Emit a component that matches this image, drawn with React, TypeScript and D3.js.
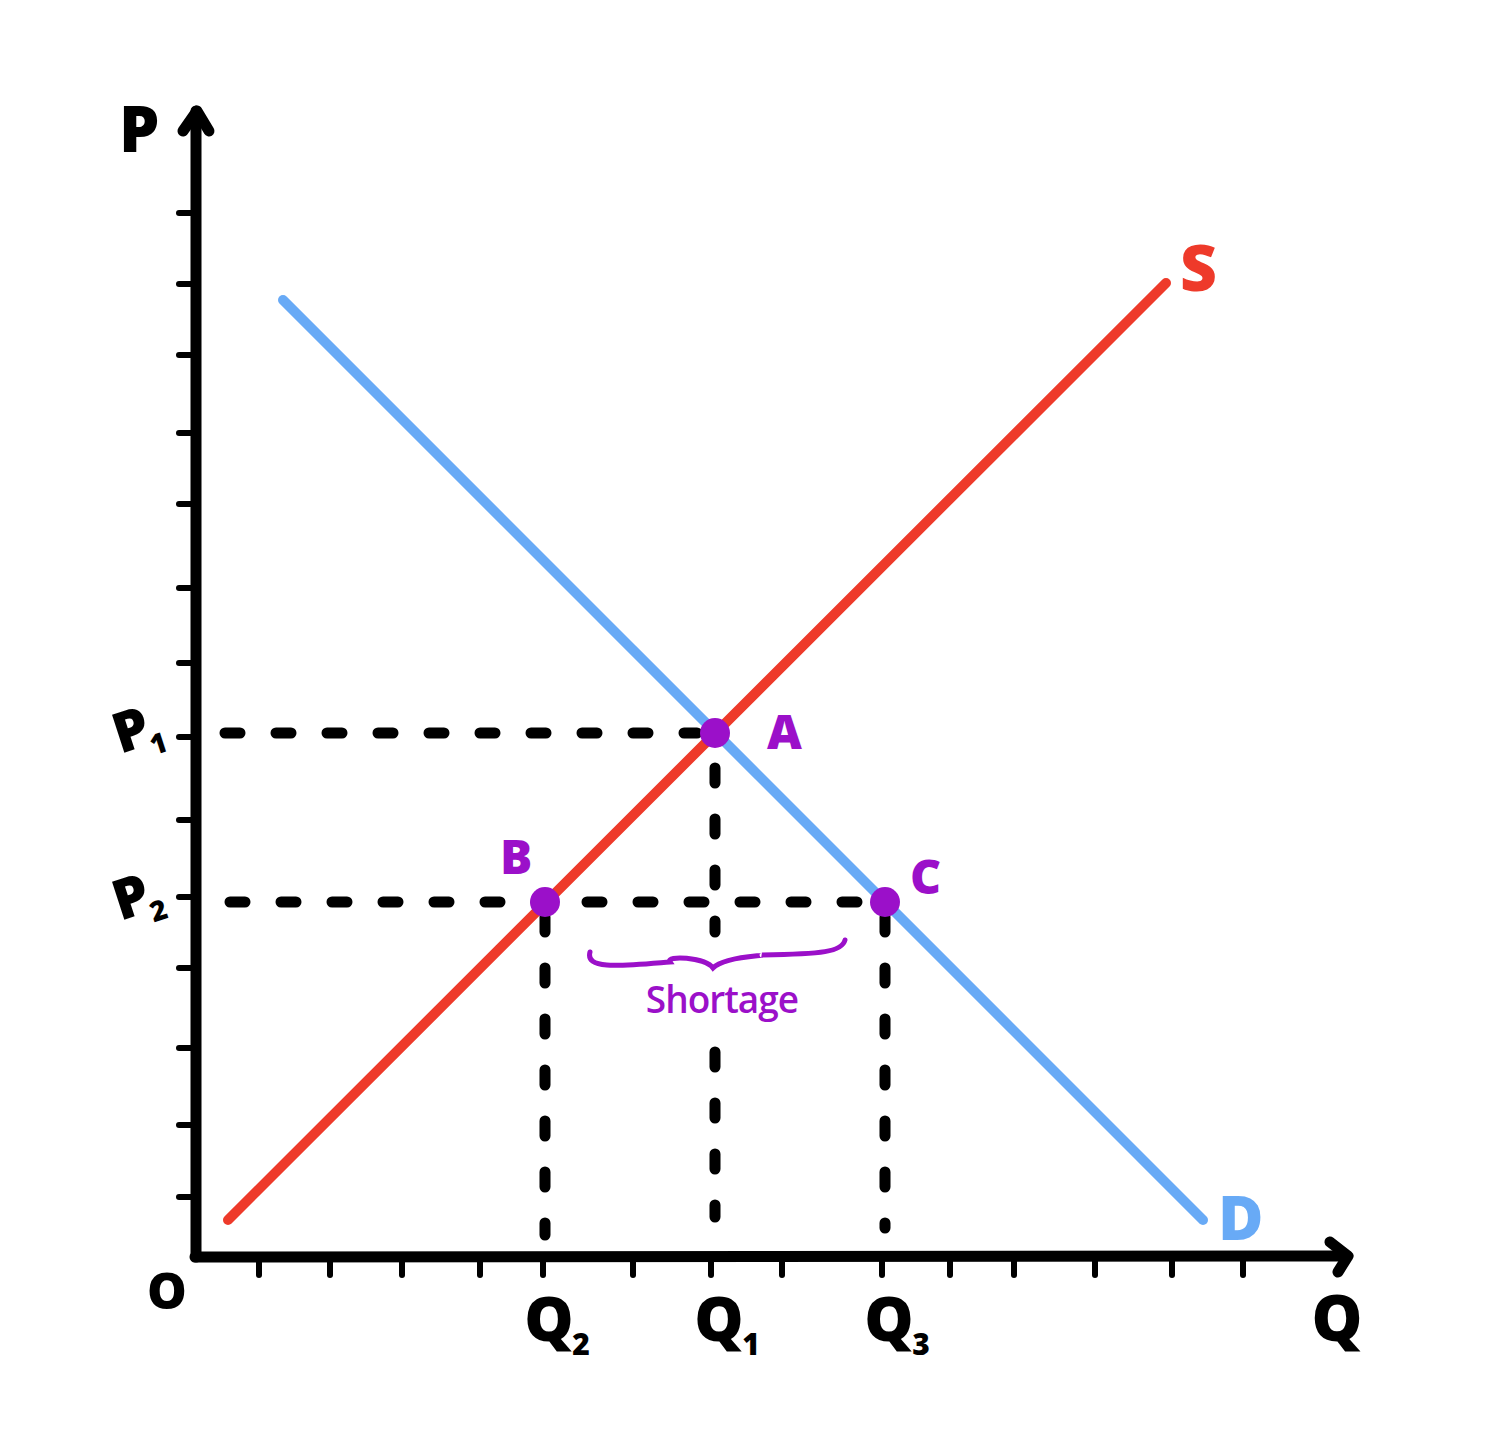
import React from 'react';
import * as d3 from 'd3';

// chart values (data units, both axes 0..115)
const pTicks = [6, 13.2, 20.9, 28.9, 36, 43.7, 52, 59.4, 66.9, 75.3, 82.4, 90.2, 97.3, 104.4];
const qTicks = [6.4, 13.5, 20.7, 28.5, 34.8, 43.8, 51.6, 58.7, 68.7, 75.5, 81.9, 90, 97.7, 104.8];
const supply = [[3.3, 3.7], [97.1, 97.4]];
const demand = [[8.8, 95.7], [100.8, 3.7]];
const points = [
  { name: 'A', q: 52, p: 52.4 },
  { name: 'B', q: 35, p: 35.5 },
  { name: 'C', q: 69, p: 35.5 },
];
const qLabels = [
  { name: 'Q', sub: '2', q: 35 },
  { name: 'Q', sub: '1', q: 52 },
  { name: 'Q', sub: '3', q: 69 },
];
const pLabels = [
  { name: 'P', sub: '1', p: 52.2 },
  { name: 'P', sub: '2', p: 35.5 },
];

const W = 1493;
const H = 1453;
const RED = '#ee3a2a';
const BLUE = '#68aaf6';
const PURPLE = '#9b10c9';
const FONT = '"Open Sans", "Noto Sans", sans-serif';

export default function App() {
  const x = d3.scaleLinear().domain([0, 115]).range([195, 1345]);
  const y = d3.scaleLinear().domain([0, 115]).range([1257, 107]);
  const line = d3.line<number[]>().x(d => x(d[0])).y(d => y(d[1]));

  const A = points[0], B = points[1], C = points[2];

  // dashed guide segments [q0,p0,q1,p1]
  const guides = [
    [3, A.p, A.q - 1.8, A.p],
    [3.5, B.p, C.q - 1.5, B.p],
    [A.q, A.p - 3.5, A.q, 32.5],
    [A.q, 20.5, A.q, 4],
    [B.q, B.p - 1.5, B.q, 2.2],
    [C.q, C.p - 1.5, C.q, 2.9],
  ];

  // brace under the shortage
  const bl = B.q + 4.5, br = C.q - 4.3, bp = 30.5;
  const brace = d3.path();
  brace.moveTo(x(bl), y(bp));
  brace.bezierCurveTo(x(bl - 0.5), y(bp - 1.8), x(bl + 3), y(bp - 1.4), x(bl + 8), y(bp - 1));
  brace.bezierCurveTo(x(A.q - 5), y(bp - 0.3), x(A.q - 1), y(bp - 0.5), x(A.q - 0.2), y(bp - 1.6));
  brace.bezierCurveTo(x(A.q + 1), y(bp - 0.4), x(A.q + 5), y(bp - 0.4), x(br - 8), y(bp - 0.3));
  brace.bezierCurveTo(x(br - 2), y(bp - 0.2), x(br), y(bp), x(br + 0.3), y(bp + 1.2));

  return (
    <svg width={W} height={H} style={{ position: 'absolute', left: 0, top: 0, background: '#fff' }}>
      {/* ticks */}
      <g stroke="#000" strokeWidth={6} strokeLinecap="round">
        {pTicks.map(t => (
          <line key={'p' + t} x1={x(0) - 16} x2={x(0)} y1={y(t)} y2={y(t)} />
        ))}
        {qTicks.map(t => (
          <line key={'q' + t} x1={x(t)} x2={x(t)} y1={y(0)} y2={y(0) + 18} />
        ))}
      </g>

      {/* axes */}
      <g stroke="#000" strokeWidth={11} strokeLinecap="round" strokeLinejoin="round" fill="none">
        <path d={`M${x(0) + 1},${y(0)}L${x(0) + 1},${y(114.6)}`} />
        <path d={`M${x(0) - 12},${y(112.6)}L${x(0) + 2},${y(114.6)}L${x(0) + 14},${y(112.6)}`} />
        <path d={`M${x(0)},${y(0)}L${x(115.2)},${y(0.1)}`} />
        <path d={`M${x(113.5)},${y(1.5)}L${x(115.3)},${y(0.1)}L${x(114.3)},${y(-1.5)}`} />
      </g>

      {/* dashed guides */}
      <g stroke="#000" strokeWidth={11} strokeLinecap="round" strokeDasharray="15 36">
        {guides.map((g, i) => (
          <line key={i} x1={x(g[0])} y1={y(g[1])} x2={x(g[2])} y2={y(g[3])} />
        ))}
      </g>

      {/* curves */}
      <path d={line(demand) || ''} stroke={BLUE} strokeWidth={10} strokeLinecap="round" fill="none" />
      <path d={line(supply) || ''} stroke={RED} strokeWidth={10} strokeLinecap="round" fill="none" />

      {/* points */}
      {points.map(pt => (
        <circle key={pt.name} cx={x(pt.q)} cy={y(pt.p)} r={15} fill={PURPLE} />
      ))}

      {/* brace + shortage label */}
      <path d={brace.toString()} stroke={PURPLE} strokeWidth={5} strokeLinecap="round" fill="none" />
      <text x={x(A.q) + 7} y={y(24.4)} textAnchor="middle" fontFamily={FONT} fontSize={37}
        fontWeight={600} fill={PURPLE} letterSpacing={-1}>Shortage</text>

      {/* point labels */}
      <g fontFamily={FONT} fontWeight={800} fill={PURPLE} fontSize={48}>
        <text x={x(A.q) + 52} y={y(A.p) + 16}>A</text>
        <text x={x(B.q) - 45} y={y(B.p) - 28}>B</text>
        <text x={x(C.q) + 25} y={y(C.p) - 8}>C</text>
      </g>

      {/* curve labels */}
      <text x={x(97.1) + 14} y={y(97.4) + 8} fontFamily={FONT} fontWeight={800} fontSize={64} fill={RED}>S</text>
      <text x={x(100.8) + 15} y={y(3.7) + 20} fontFamily={FONT} fontWeight={800} fontSize={62} fill={BLUE}>D</text>

      {/* axis labels */}
      <g fontFamily={FONT} fontWeight={800} fill="#000">
        <text x={x(0) - 76} y={y(110.5)} fontSize={64}>P</text>
        <text x={x(114.2)} y={y(-8.4)} fontSize={64} textAnchor="middle">Q</text>
        <text x={x(0) - 28} y={y(-5.2)} fontSize={50} textAnchor="middle">O</text>
        {qLabels.map(l => (
          <g key={l.sub}>
            <text x={x(l.q) + 4} y={y(-8.4)} fontSize={62} textAnchor="middle">{l.name}</text>
            <text x={x(l.q) + 36} y={y(-9.8)} fontSize={30} textAnchor="middle">{l.sub}</text>
          </g>
        ))}
        {pLabels.map(l => (
          <text key={l.sub} x={x(0) - 80} y={y(l.p) + 14} fontSize={56}
            transform={`rotate(-18 ${x(0) - 62} ${y(l.p)})`}>
            {l.name}
            <tspan fontSize={28} dx={-4} dy={12}>{l.sub}</tspan>
          </text>
        ))}
      </g>
    </svg>
  );
}
